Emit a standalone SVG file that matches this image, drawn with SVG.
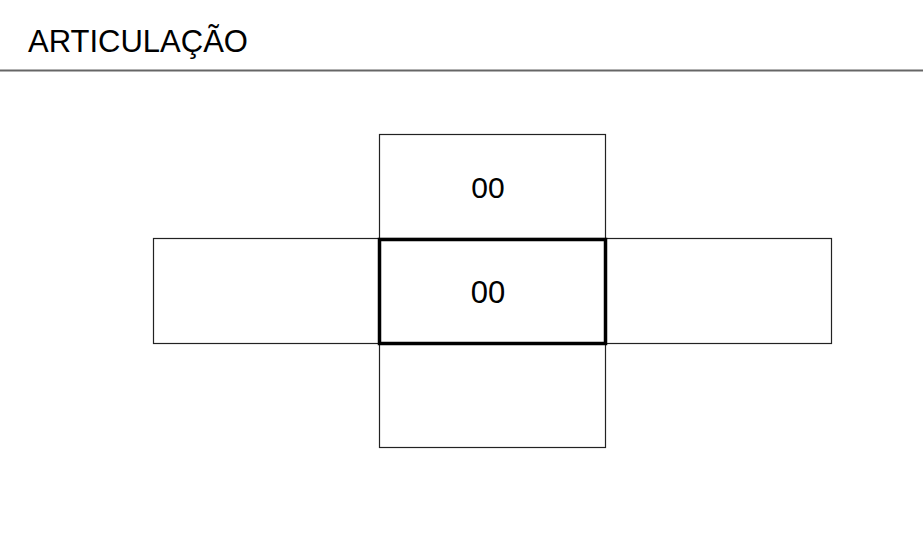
<svg xmlns="http://www.w3.org/2000/svg" width="923" height="540" viewBox="0 0 923 540">
<style>
.t{font-family:"Liberation Sans",Arial,sans-serif;fill:#000}
.box{fill:#fff;stroke:#222;stroke-width:1.2}
.main{fill:#fff;stroke:#000;stroke-width:3.5}
</style>
<rect width="923" height="540" fill="#fff"/>
<text class="t" x="28" y="52" font-size="31">ARTICULAÇÃO</text>
<line x1="0" y1="70.5" x2="923" y2="70.5" stroke="#666" stroke-width="2"/>
<g id="connectors"/>
<g id="top"><rect class="box" x="379.5" y="134.5" width="226" height="104"/><text class="t" x="488" y="198" font-size="30" text-anchor="middle">00</text></g>
<g id="left"><rect class="box" x="153.5" y="238.5" width="226" height="105"/></g>
<g id="right"><rect class="box" x="605.5" y="238.5" width="226" height="105"/></g>
<g id="bottom"><rect class="box" x="379.5" y="343.5" width="226" height="104"/></g>
<g id="center"><rect class="main" x="379.5" y="239.5" width="226" height="104"/><text class="t" x="488" y="303" font-size="31" text-anchor="middle">00</text></g>
</svg>
